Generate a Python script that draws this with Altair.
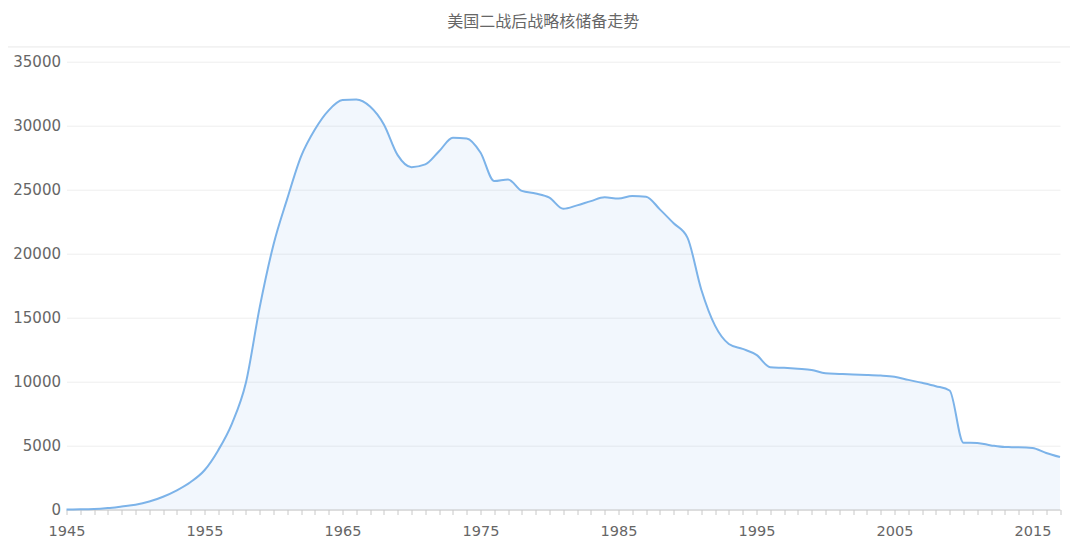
import altair as alt
import pandas as pd

years = list(range(1945, 2018))
stockpile = [
    6, 11, 32, 110, 235, 370, 620, 1000, 1500, 2150,
    3070, 4640, 6740, 9900, 15800, 20700, 24300, 27600, 29700, 31200,
    32000, 32050, 31500, 30100, 27700, 26760, 26970, 28000, 29050, 29000,
    27900, 25670, 25800, 24900, 24700, 24370, 23500, 23770, 24100, 24400,
    24300, 24500, 24450, 23460, 22370, 21250, 17200, 14370, 12940, 12550,
    12080, 11120, 11070, 11000, 10910, 10650, 10600, 10550, 10520, 10470,
    10370, 10130, 9900, 9640, 9300, 5220, 5200, 5010, 4880, 4870,
    4810, 4420, 4100,
]
y_ticks = [0, 5000, 10000, 15000, 20000, 25000, 30000, 35000]
title_text = "美国二战后战略核储备走势"

df = pd.DataFrame({"year": years, "value": stockpile})

line_color = "#7cb3e9"

x = alt.X(
    "year:Q",
    scale=alt.Scale(domain=[1945, 2017], nice=False, zero=False),
    axis=alt.Axis(
        title=None,
        values=years,
        labelExpr="(datum.value - 1945) % 10 == 0 ? datum.value : ''",
        labelOverlap=False,
        labelFlush=False,
        grid=False,
        domainColor="#c8c8c8",
        tickColor="#c8c8c8",
        tickSize=5,
        labelPadding=10,
        labelFont="DejaVu Sans",
        labelFontSize=14.5,
        labelColor="#666666",
    ),
)
y = alt.Y(
    "value:Q",
    scale=alt.Scale(domain=[0, 35000], nice=False),
    axis=alt.Axis(
        title=None,
        values=y_ticks,
        format="d",
        ticks=False,
        domain=False,
        gridColor="#eeeeee",
        gridWidth=1,
        labelPadding=6,
        labelFont="DejaVu Sans",
        labelFontSize=15,
        labelColor="#666666",
    ),
)

area = alt.Chart(df).mark_area(
    interpolate="monotone",
    line={"color": line_color, "strokeWidth": 2},
    color=line_color,
    fillOpacity=0.1,
).encode(x=x, y=y)

sep = alt.Chart(df).mark_rule(color="#f2f2f2", strokeWidth=1).encode(
    x=alt.value(-64), x2=alt.value(1018), y=alt.value(-15)
)

chart = (
    alt.layer(sep, area)
    .properties(
        width=993.5,
        height=447.8,
        title=alt.TitleParams(
            text=title_text,
            anchor="middle",
            frame="group",
            dx=-20,
            offset=16,
            font="Noto Sans CJK SC",
            fontSize=16,
            fontWeight="normal",
            color="#666666",
        ),
        autosize=alt.AutoSizeParams(type="none"),
        padding={"left": 58.5, "top": 53.7, "right": 10, "bottom": 30},
        background="white",
    )
    .configure_view(stroke=None)
)

chart.save("out.html", embed_options={"renderer": "svg", "actions": False})
